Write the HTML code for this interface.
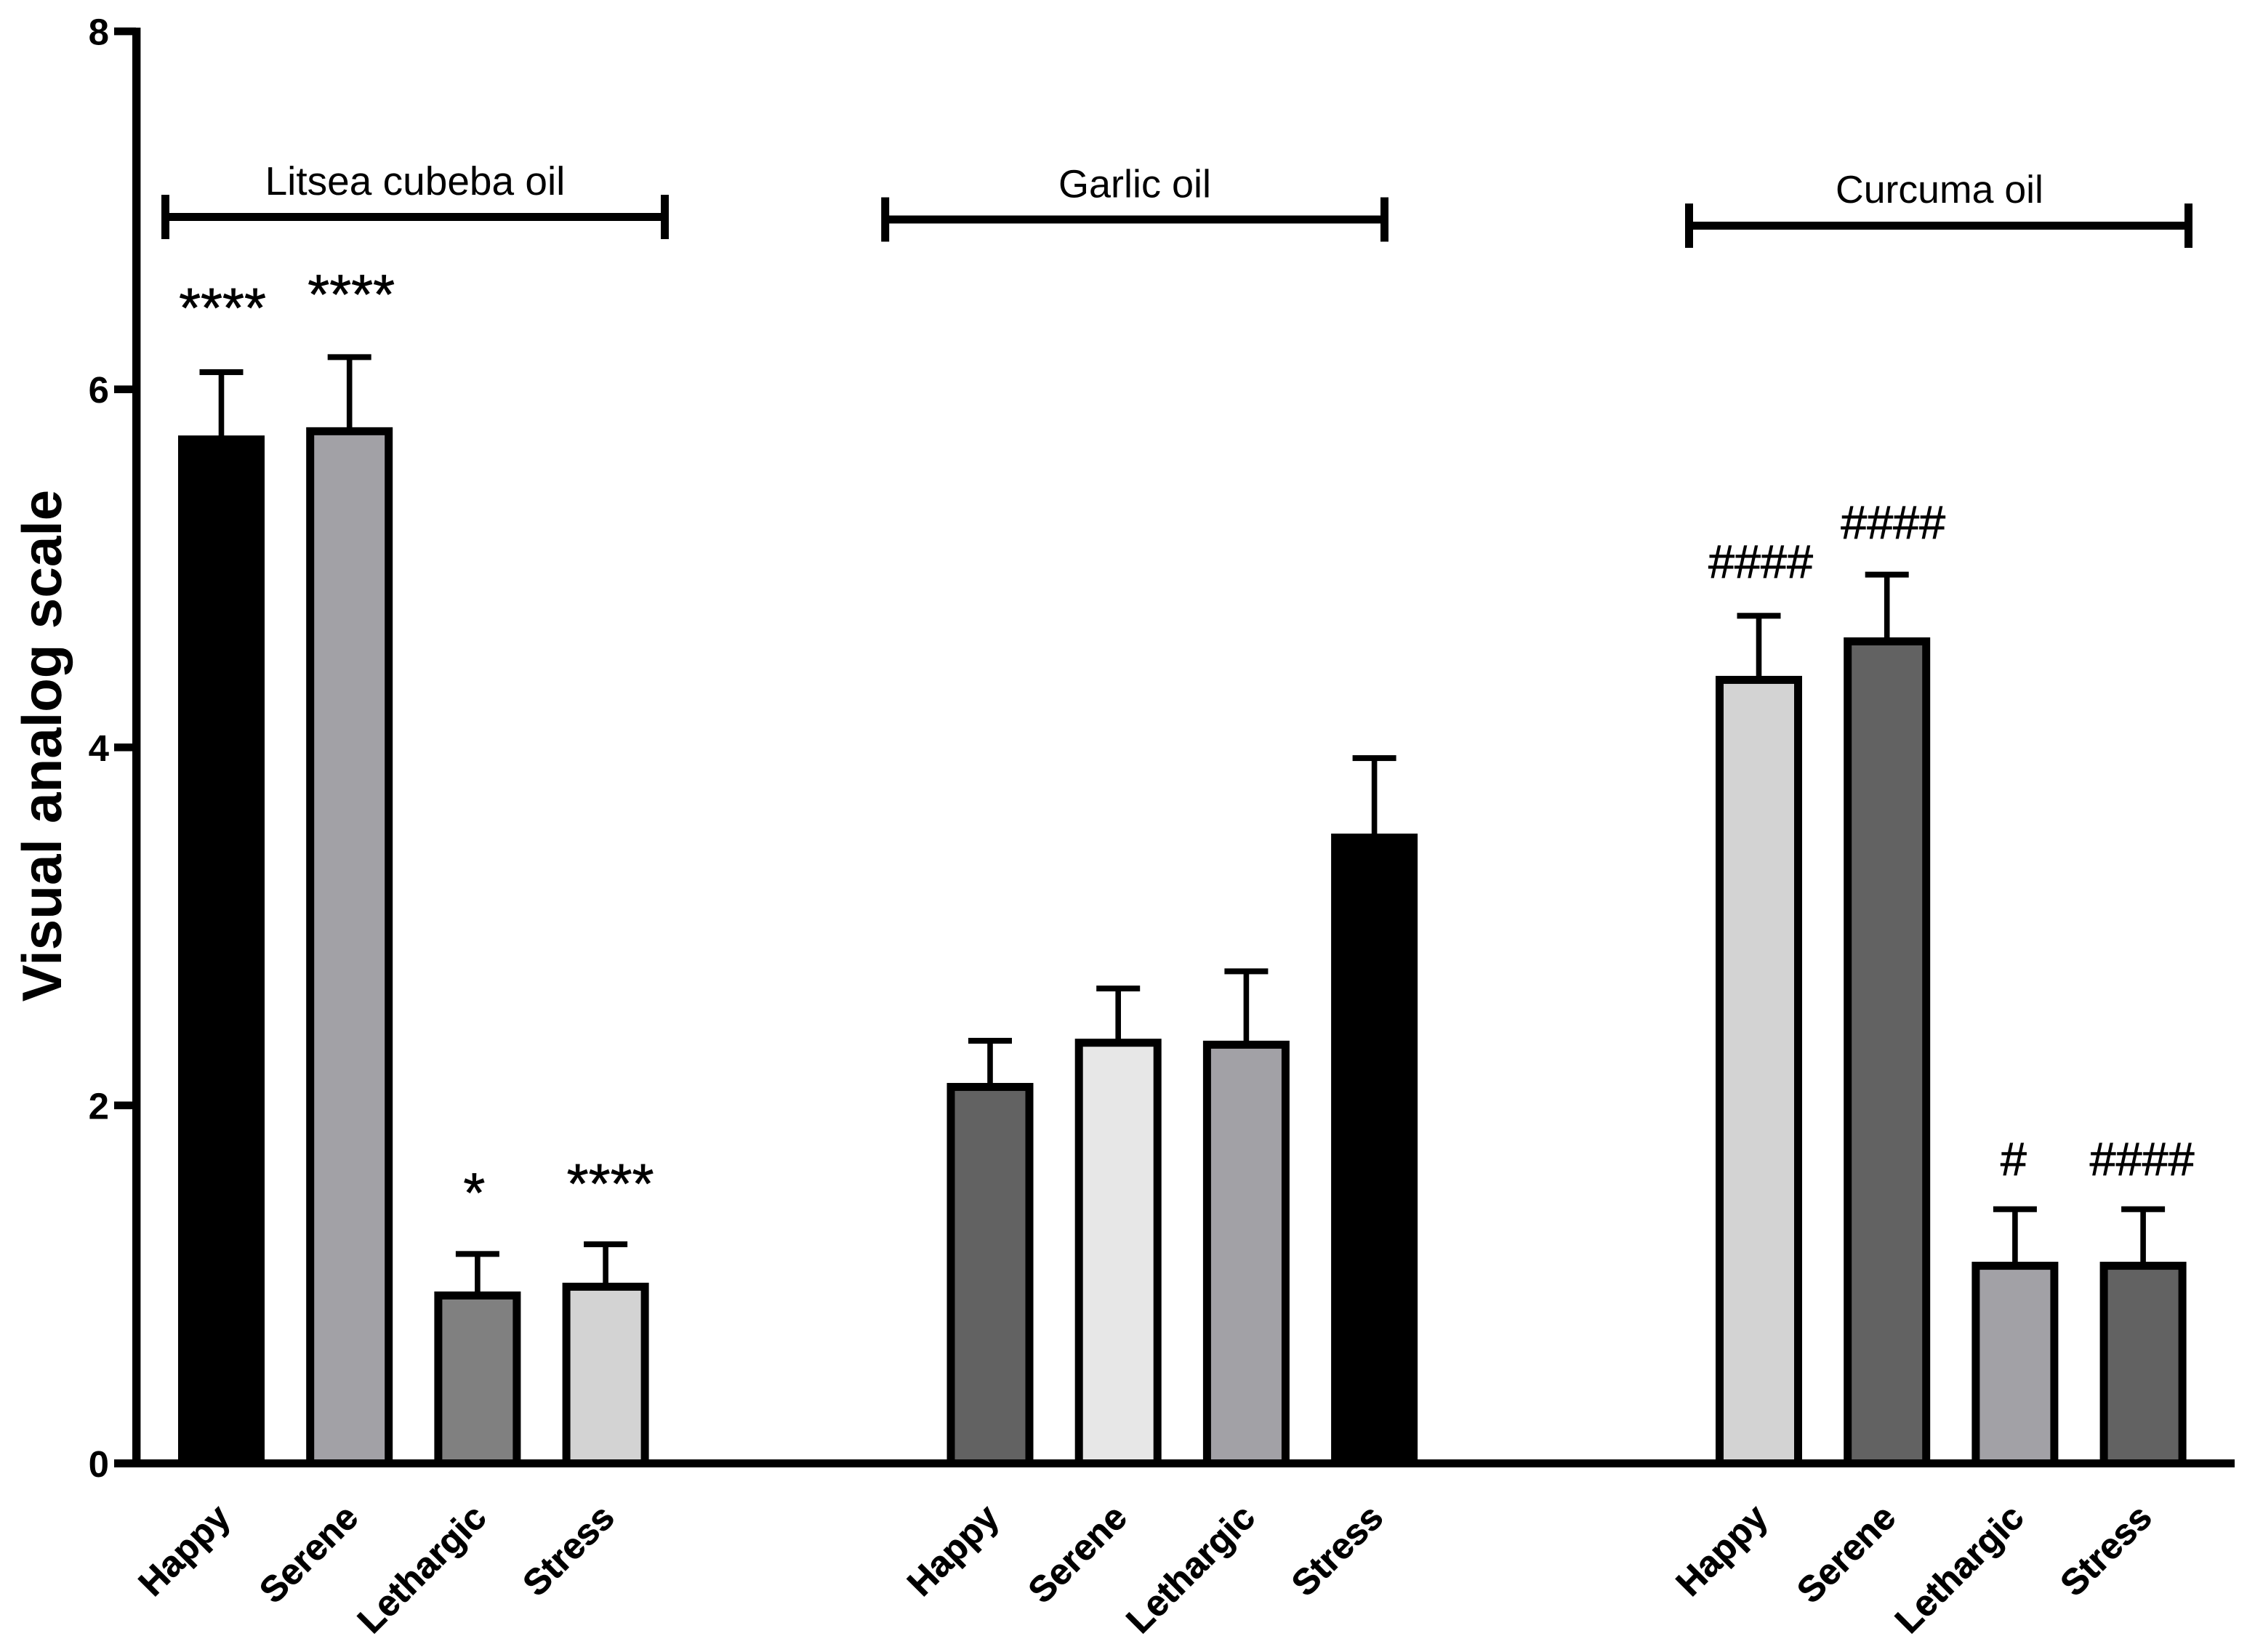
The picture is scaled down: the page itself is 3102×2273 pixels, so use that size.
<!DOCTYPE html>
<html lang="en">
<head>
<meta charset="utf-8">
<title>Visual analog scale by essential oil</title>
<style>
html,body{margin:0;padding:0;background:#fff;width:3102px;height:2273px;overflow:hidden}
svg{display:block;position:absolute;left:0;top:0}
text{font-family:"Liberation Sans",Arial,sans-serif;fill:#000;text-rendering:geometricPrecision}
</style>
</head>
<body>
<svg id="chart" xmlns="http://www.w3.org/2000/svg" width="3102" height="2273" viewBox="0 0 3102 2273">
  <rect x="0" y="0" width="3102" height="2273" fill="#ffffff"/>
  <text transform="translate(84,1026) rotate(-90)" text-anchor="middle" font-size="76.5" font-weight="700">Visual analog scale</text>
</svg>
<script>
const categories = ['Happy', 'Serene', 'Lethargic', 'Stress'];
const groupNames = ['Litsea cubeba oil', 'Garlic oil', 'Curcuma oil'];
const yTickLabels = [0, 2, 4, 6, 8];
const litseaMeans = [5.72, 5.766, 0.938, 0.987];
const litseaErrors = [0.376, 0.414, 0.232, 0.237];
const garlicMeans = [2.103, 2.35, 2.339, 3.496];
const garlicErrors = [0.258, 0.303, 0.41, 0.444];
const curcumaMeans = [4.377, 4.592, 1.104, 1.104];
const curcumaErrors = [0.358, 0.373, 0.316, 0.316];
const litseaMarks = ['****', '****', '*', '****'];
const curcumaMarks = ['####', '####', '#', '####'];

const means = [litseaMeans, garlicMeans, curcumaMeans];
const errors = [litseaErrors, garlicErrors, curcumaErrors];

const svg = document.getElementById('chart');
const NS = 'http://www.w3.org/2000/svg';

function y(v) { return 2013.5 - 246.3 * v; }
function x(g, i) { return 304.5 + g * 1057.5 + i * 176.2; }
function fillFor(g, i) {
  const black = '#000000', mid = '#a2a1a6', grey = '#808080', light = '#d3d3d3', dark = '#626262', pale = '#e7e7e7';
  if (g === 0) return [black, mid, grey, light][i];
  if (g === 1) return [dark, pale, mid, black][i];
  return [light, dark, mid, dark][i];
}
function make(tag, attrs, text) {
  const n = document.createElementNS(NS, tag);
  for (const k in attrs) n.setAttribute(k, attrs[k]);
  if (text !== undefined) n.textContent = text;
  svg.appendChild(n);
  return n;
}
function slug(s) { return s.toLowerCase().replace(/\s+/g, '-'); }

/* bars and error bars */
means.forEach(function (series, g) {
  series.forEach(function (v, i) {
    const cx = x(g, i);
    const top = y(v + errors[g][i]);
    const stem = make('rect', { x: cx - 3.8, y: top, width: 7.6, height: y(v) - top, fill: '#000' });
    
    
    const cap = make('rect', { x: cx - 30, y: top - 4, width: 60, height: 8, fill: '#000' });
    
    
    const bar = make('rect', { x: cx - 54, y: y(v), width: 108, height: y(0) - y(v), fill: fillFor(g, i), stroke: '#000', 'stroke-width': 11 });
    
    
    const label = make('text', { transform: 'translate(' + (cx + 15) + ',2091) rotate(-45)', 'text-anchor': 'end', 'font-size': 50, 'font-weight': 700, stroke: '#000', 'stroke-width': 0.6 }, categories[i]);
    
    
  });
});

/* axes */
const yAxisLine = make('rect', { x: 182, y: 38, width: 11.4, height: 1981, fill: '#000' });


const xAxisLine = make('rect', { x: 157, y: y(0) - 5.5, width: 2917, height: 11, fill: '#000' });


yTickLabels.forEach(function (t) {
  const tick = make('rect', { x: 157, y: y(t) - 5.3, width: 30, height: 10.6, fill: '#000' });
  
  
  const label = make('text', { x: 150, y: y(t) + 18.5, 'text-anchor': 'end', 'font-size': 51, 'font-weight': 700 }, String(t));
  
  
});

/* group brackets */
function bracket(g, left, right, cy, textCx, baseline, size) {
  const line = make('rect', { x: left, y: cy - 5.5, width: right - left, height: 11, fill: '#000' });
  
  
  const capL = make('rect', { x: left - 5.5, y: cy - 30.5, width: 11, height: 61, fill: '#000' });
  
  
  const capR = make('rect', { x: right - 5.5, y: cy - 30.5, width: 11, height: 61, fill: '#000' });
  
  
  const label = make('text', { x: textCx, y: baseline, 'text-anchor': 'middle', 'font-size': size }, groupNames[g]);
  
  
}
bracket(0, 227.5, 914.5, 298.5, 571, 268, 55);
bracket(1, 1217.7, 1904.5, 302, 1561, 271.4, 54);
bracket(2, 2323.5, 3010.5, 310.5, 2668, 279, 53.6);

/* significance marks, placed relative to each error bar */
function annotate(g, i, text, dx, gap, size, weight) {
  const baseline = y(means[g][i] + errors[g][i]) - gap;
  const mark = make('text', { x: x(g, i) + dx, y: baseline, 'text-anchor': 'middle', 'font-size': size, stroke: '#000', 'stroke-width': weight }, text);
  
  
}
annotate(0, 0, litseaMarks[0], 1.5, 62, 77, 0.7);
annotate(0, 1, litseaMarks[1], 2.5, 60, 77, 0.7);
annotate(0, 2, litseaMarks[2], -4.5, 58, 77, 0.7);
annotate(0, 3, litseaMarks[3], 6.5, 57, 77, 0.7);
annotate(2, 0, curcumaMarks[0], 2.5, 52.5, 64.7, 0.8);
annotate(2, 1, curcumaMarks[1], 8.5, 49.5, 64.7, 0.8);
annotate(2, 2, curcumaMarks[2], -2, 47, 64.7, 0.8);
annotate(2, 3, curcumaMarks[3], -1.5, 47, 64.7, 0.8);
</script>
</body>
</html>
